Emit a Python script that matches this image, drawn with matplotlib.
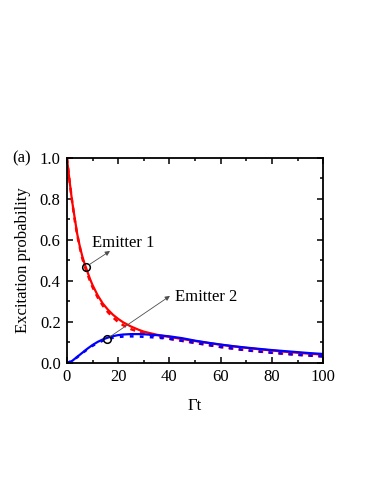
import numpy as np
import matplotlib.pyplot as plt
from matplotlib.ticker import MultipleLocator

plt.rcParams['font.family'] = ['Liberation Serif', 'DejaVu Serif']

# emitter 1 (red)
t_e1 = [0, 1, 2, 3, 4, 5, 6, 7, 8, 9, 10, 12, 14, 16, 18, 20, 22, 25, 28, 30,
        35, 40, 45, 50, 55, 60, 65, 70, 75, 80, 85, 90, 95, 100]
p_e1 = [1.0, 0.89, 0.79, 0.71, 0.63, 0.57, 0.52, 0.48, 0.445, 0.41, 0.38, 0.33,
        0.29, 0.26, 0.235, 0.215, 0.198, 0.178, 0.162, 0.153, 0.138, 0.127,
        0.117, 0.107, 0.098, 0.089, 0.081, 0.074, 0.067, 0.061, 0.055, 0.05,
        0.045, 0.041]
p_e1_approx = [1.0, 0.89, 0.79, 0.70, 0.625, 0.565, 0.51, 0.47, 0.435, 0.40,
               0.37, 0.32, 0.28, 0.248, 0.222, 0.2, 0.184, 0.165, 0.152, 0.145,
               0.13, 0.118, 0.108, 0.098, 0.088, 0.078, 0.07, 0.062, 0.056,
               0.05, 0.045, 0.04, 0.036, 0.032]

# emitter 2 (blue)
t_e2 = [0, 2, 4, 6, 8, 10, 12, 14, 16, 18, 20, 22, 25, 28, 30, 35, 40, 45, 50,
        55, 60, 65, 70, 75, 80, 85, 90, 95, 100]
p_e2 = [0.0, 0.01, 0.03, 0.05, 0.07, 0.088, 0.103, 0.115, 0.124, 0.131, 0.136,
        0.139, 0.141, 0.141, 0.14, 0.136, 0.13, 0.121, 0.109, 0.099, 0.09,
        0.082, 0.075, 0.069, 0.063, 0.058, 0.053, 0.048, 0.044]
p_e2_approx = [0.0, 0.01, 0.028, 0.048, 0.067, 0.084, 0.098, 0.109, 0.117,
               0.123, 0.127, 0.129, 0.13, 0.129, 0.128, 0.124, 0.118, 0.108,
               0.098, 0.088, 0.078, 0.07, 0.062, 0.056, 0.05, 0.045, 0.04,
               0.036, 0.032]

fig = plt.figure(figsize=(3.74, 4.84), dpi=100)
ax = fig.add_axes([0.179, 0.25, 0.685, 0.4236])

ax.plot(t_e1, p_e1, color='red', lw=1.6)
ax.plot(t_e1, p_e1_approx, color='red', lw=1.8, dashes=(2, 2))
ax.plot(t_e2, p_e2_approx, color='blue', lw=1.8, dashes=(1.5, 2.5))
ax.plot(t_e2, p_e2, color='blue', lw=1.6)

# marker circles + arrows
ax.plot([7.5], [0.47], 'o', mfc='none', mec='black', ms=5.5, mew=1.1)
ax.plot([15.5], [0.117], 'o', mfc='none', mec='black', ms=5.5, mew=1.1)
arrow = dict(arrowstyle='-|>', color='0.3', lw=0.6, mutation_scale=7,
             shrinkA=3, shrinkB=0)
ax.annotate('', xy=(16.8, 0.546), xytext=(7.5, 0.47), arrowprops=arrow)
ax.annotate('', xy=(40.2, 0.327), xytext=(15.5, 0.117), arrowprops=arrow)
ax.text(9.8, 0.585, 'Emitter 1', fontsize=12, va='center', ha='left')
ax.text(42.3, 0.322, 'Emitter 2', fontsize=12, va='center', ha='left')

ax.set_xlim(0, 100)
ax.set_ylim(0, 1.0)
ax.xaxis.set_major_locator(MultipleLocator(20))
ax.xaxis.set_minor_locator(MultipleLocator(10))
ax.yaxis.set_major_locator(MultipleLocator(0.2))
ax.yaxis.set_minor_locator(MultipleLocator(0.1))
ax.yaxis.set_major_formatter(plt.FuncFormatter(lambda v, p: f'{v:.1f}'))
ax.tick_params(which='both', direction='in', top=True, right=True,
               labelsize=12, width=1.1)
ax.tick_params(which='major', length=4, pad=4.5)
ax.tick_params(which='minor', length=2)
for s in ax.spines.values():
    s.set_linewidth(1.3)

ax.set_xlabel('Γt', fontsize=12, labelpad=9)
ax.set_ylabel('Excitation probability', fontsize=12, labelpad=6)
fig.text(0.032, 0.673, '(a)', fontsize=12, va='center')

fig.savefig('out.png', dpi=100)
